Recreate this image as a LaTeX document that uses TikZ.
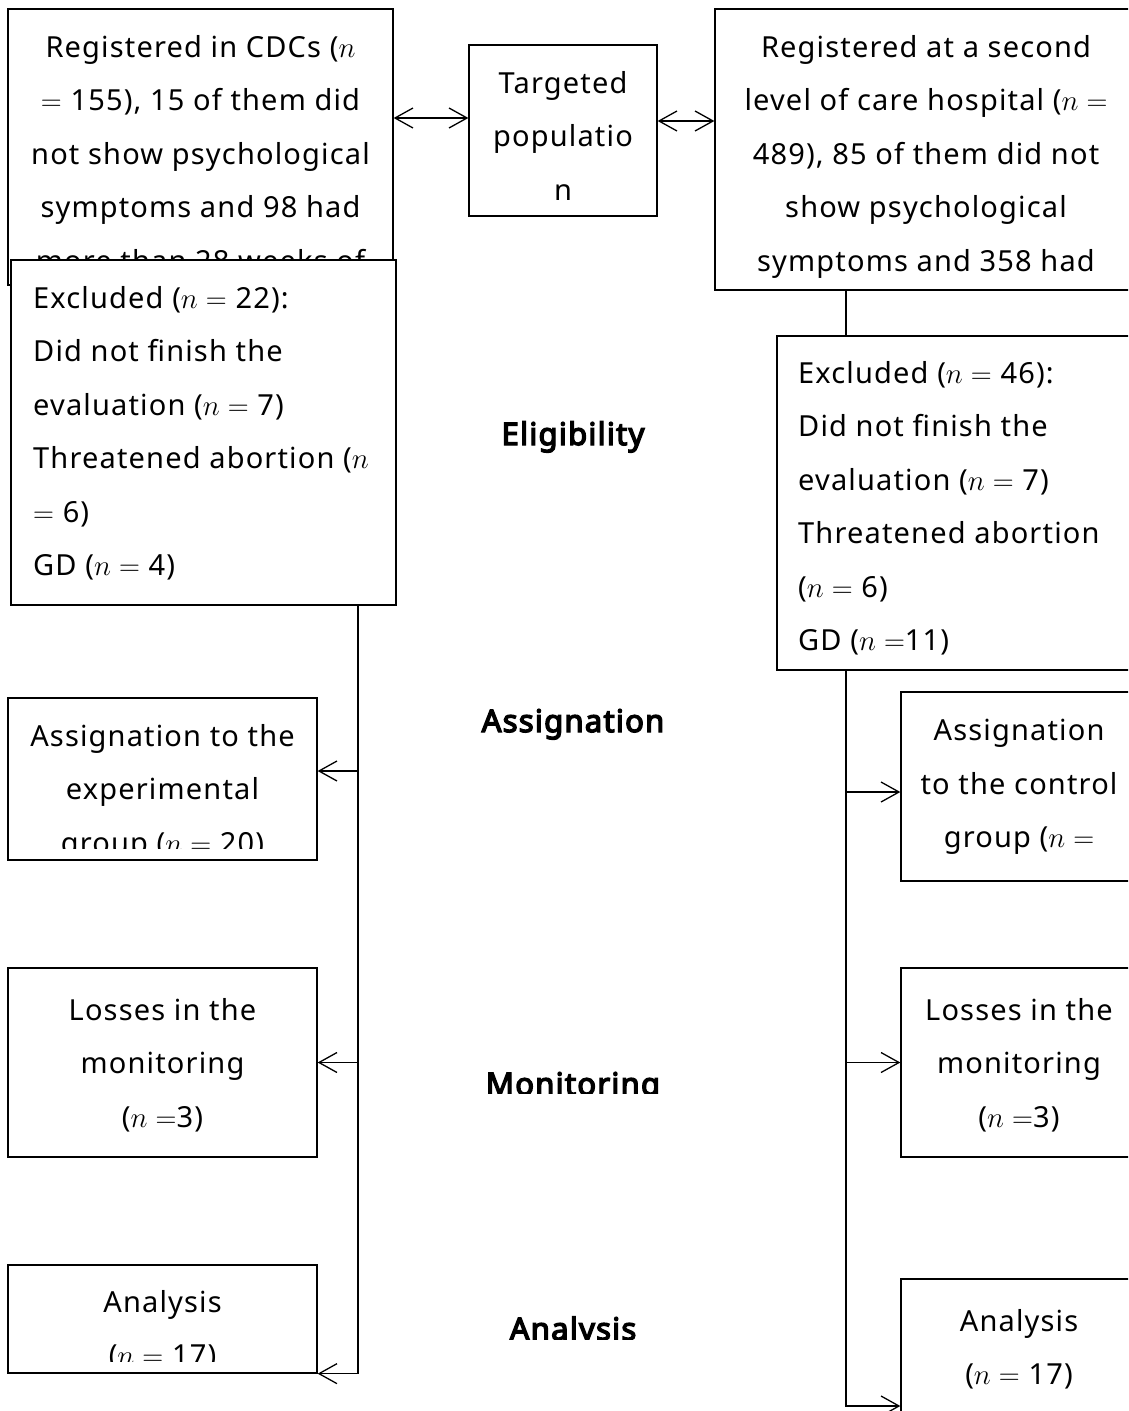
\RequirePackage{fix-cm}
\documentclass[tikz,border=0pt]{standalone}
\usepackage{fontspec}
\setmainfont{Noto Sans}[LetterSpace=4, AutoFakeBold=4.5]
\usetikzlibrary{arrows.meta}

% text of a box, cut off above the lower margin of the box
\newcommand{\boxtext}[4][txt]{%
  \begin{scope}
    \clip ([yshift=12pt]#2.south west) rectangle (#2.north east);
    \node[#1] (#2-text) at #3 {#4};
  \end{scope}}

\begin{document}
\begin{tikzpicture}[x=1pt, y=-1pt,
  >={Straight Barb[length=18pt, width=20pt]},
  box/.style = {draw, fill=white, line width=1.3pt, inner sep=0pt},
  txt/.style = {inner sep=0pt, anchor=north, align=center,
    font=\fontsize{29}{53.5}\selectfont},
  txtl/.style = {txt, anchor=north west, align=left},
  phase/.style = {inner sep=0pt, anchor=base,
    font=\fontsize{31}{36}\selectfont\bfseries},
  link/.style = {line width=1.3pt}
  ]
  \useasboundingbox (0,0) rectangle (1128,1411);
  \clip (0,0) rectangle (1128,1411);

  % registration
  \node[box, minimum width=385pt, minimum height=276pt] (regL) at (200.5,147) {};
  \boxtext{regL}{(200.5,35)}{Registered in CDCs ($n$\\ $=$ 155), 15 of them did\\
    not show psychological\\ symptoms and 98 had\\ more than 28 weeks of};
  \node[box, minimum width=188pt, minimum height=171pt] (target) at (563,130.5) {};
  \boxtext{target}{(563,71)}{Targeted\\ populatio\\ n};
  \node[box, minimum width=422pt, minimum height=281pt] (regR) at (926,149.5) {};
  \boxtext{regR}{(926,35)}{Registered at a second\\ level of care hospital ($n =$\\
    489), 85 of them did not\\ show psychological\\ symptoms and 358 had};

  % exclusions
  \node[box, minimum width=385pt, minimum height=345pt] (exclL) at (203.5,432.5) {};
  \boxtext[txtl]{exclL}{(33,286)}{Excluded ($n =$ 22):\\ Did not finish the\\
    evaluation ($n =$ 7)\\ Threatened abortion ($n$\\ $=$ 6)\\ GD ($n =$ 4)};
  \node[box, minimum width=360pt, minimum height=334pt] (exclR) at (957,503) {};
  \boxtext[txtl]{exclR}{(798,361)}{Excluded ($n =$ 46):\\ Did not finish the\\
    evaluation ($n =$ 7)\\ Threatened abortion\\ ($n =$ 6)\\ GD ($n =$11)};

  % groups
  \node[box, minimum width=309pt, minimum height=162pt] (expL) at (162.5,779) {};
  \boxtext{expL}{(162.5,724)}{Assignation to the\\ experimental\\ group ($n =$ 20)};
  \node[box, minimum width=236pt, minimum height=189pt] (ctrlR) at (1019,786.5) {};
  \boxtext{ctrlR}{(1019,719)}{Assignation\\ to the control\\ group ($n =$};
  \node[box, minimum width=309pt, minimum height=189pt] (lossL) at (162.5,1062.5) {};
  \boxtext{lossL}{(162.5,998)}{Losses in the\\ monitoring\\ ($n =$3)};
  \node[box, minimum width=236pt, minimum height=189pt] (lossR) at (1019,1062.5) {};
  \boxtext{lossR}{(1019,998)}{Losses in the\\ monitoring\\ ($n =$3)};
  \node[box, minimum width=309pt, minimum height=108pt] (anaL) at (162.5,1319) {};
  \boxtext{anaL}{(162.5,1290)}{Analysis\\ ($n =$ 17)};
  \node[box, minimum width=236pt, minimum height=189pt] (anaR) at (1019,1373.5) {};
  \boxtext{anaR}{(1019,1309)}{Analysis\\ ($n =$ 17)};

  % phases
  \node[phase] (elig) at (573,445) {Eligibility};
  \node[phase] (assign) at (573,732) {Assignation};
  \begin{scope}
    \clip (440,1050) rectangle (700,1093);
    \node[phase] (monit) at (573,1095) {Monitoring};
  \end{scope}
  \begin{scope}
    \clip (440,1300) rectangle (700,1339);
    \node[phase] (anal) at (573,1340) {Analysis};
  \end{scope}

  % connectors
  \coordinate (trunkL) at (358,0);
  \coordinate (trunkR) at (846,0);
  \draw[link, <->] ([yshift=12.5pt]target.west -| regL.east) -- ([yshift=12.5pt]target.west);
  \draw[link, <->] ([yshift=9.5pt]target.east) -- ([yshift=9.5pt]target.east -| regR.west);
  \draw[link] (regR.south -| trunkR) -- (exclR.north -| trunkR);
  \draw[link, ->] (exclL.south -| trunkL) |- (anaL.south east);
  \draw[link, ->] ([yshift=8pt]expL.east -| trunkL) -- ([yshift=8pt]expL.east);
  \draw[link, ->] (lossL.east -| trunkL) -- (lossL.east);
  \draw[link, ->] (exclR.south -| trunkR) |- ([yshift=-32.5pt]anaR.west);
  \draw[link, ->] ([yshift=-5.5pt]ctrlR.west -| trunkR) -- ([yshift=-5.5pt]ctrlR.west);
  \draw[link, ->] (lossR.west -| trunkR) -- (lossR.west);
\end{tikzpicture}
\end{document}
